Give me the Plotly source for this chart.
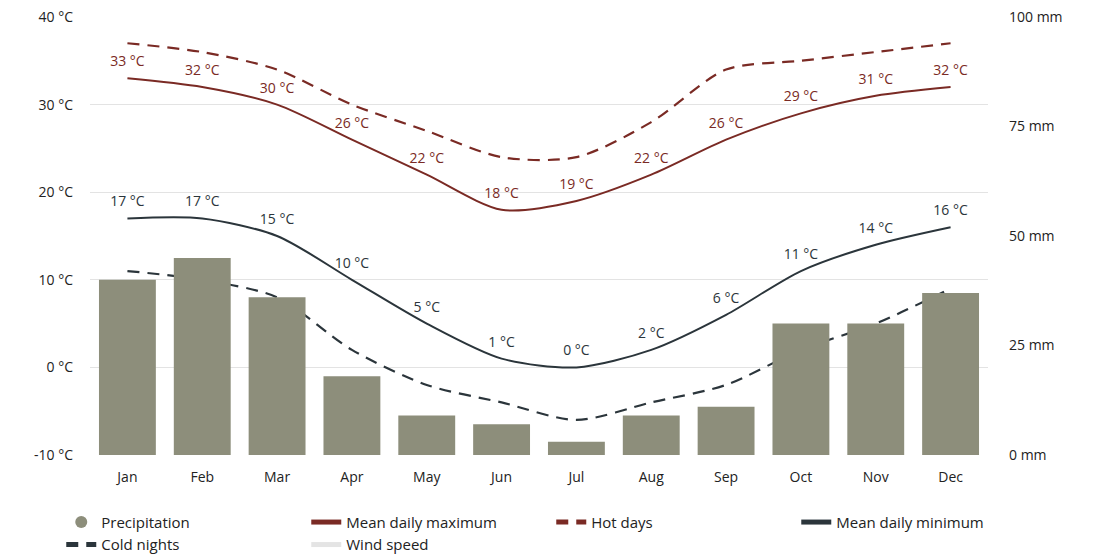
import plotly.graph_objects as go

months = ["Jan", "Feb", "Mar", "Apr", "May", "Jun", "Jul", "Aug", "Sep", "Oct", "Nov", "Dec"]
precipitation_mm = [40, 45, 36, 18, 9, 7, 3, 9, 11, 30, 30, 37]
mean_daily_max = [33, 32, 30, 26, 22, 18, 19, 22, 26, 29, 31, 32]
hot_days = [37, 36, 34, 30, 27, 24, 24, 28, 34, 35, 36, 37]
mean_daily_min = [17, 17, 15, 10, 5, 1, 0, 2, 6, 11, 14, 16]
cold_nights = [11, 10, 8, 2, -2, -4, -6, -4, -2, 2, 5, 9]
wind_speed = [None] * 12

temp_ticks = [-10, 0, 10, 20, 30, 40]
rain_ticks = [0, 25, 50, 75, 100]

RED = "#7a2a24"
DARK = "#2b353b"
BAR = "#8d8e7b"
FONT = "'Open Sans', 'Noto Sans', sans-serif"
DASH = "12px,8px"

fig = go.Figure()

# precipitation bars on the millimetre axis; legend entry drawn as a round swatch
fig.add_trace(go.Bar(
    x=months, y=precipitation_mm, name="Precipitation",
    marker=dict(color=BAR, line=dict(width=0)), yaxis="y2", showlegend=False,
))
fig.add_trace(go.Scatter(
    x=months, y=[None] * 12, name="Precipitation", mode="markers", yaxis="y2",
    marker=dict(color=BAR, size=17, symbol="circle"),
))
fig.add_trace(go.Scatter(
    x=months, y=mean_daily_max, name="Mean daily maximum", mode="lines+markers+text",
    line=dict(color=RED, width=2, shape="spline", smoothing=0.8),
    marker=dict(size=12, color="rgba(0,0,0,0)"),
    text=[f"{v} °C" for v in mean_daily_max], textposition="top center",
    textfont=dict(color=RED, size=14, family=FONT),
))
fig.add_trace(go.Scatter(
    x=months, y=hot_days, name="Hot days", mode="lines",
    line=dict(color=RED, width=2.2, shape="spline", smoothing=0.8, dash=DASH),
))
fig.add_trace(go.Scatter(
    x=months, y=mean_daily_min, name="Mean daily minimum", mode="lines+markers+text",
    line=dict(color=DARK, width=2, shape="spline", smoothing=0.8),
    marker=dict(size=12, color="rgba(0,0,0,0)"),
    text=[f"{v} °C" for v in mean_daily_min], textposition="top center",
    textfont=dict(color=DARK, size=14, family=FONT),
))
fig.add_trace(go.Scatter(
    x=months, y=cold_nights, name="Cold nights", mode="lines",
    line=dict(color=DARK, width=2.2, shape="spline", smoothing=0.8, dash=DASH),
))
fig.add_trace(go.Scatter(
    x=months, y=wind_speed, name="Wind speed", mode="lines",
    line=dict(color="#e4e4e4", width=2),
))

fig.update_layout(
    width=1094, height=556,
    margin=dict(l=90, r=106, t=17, b=101, autoexpand=False),
    plot_bgcolor="white", paper_bgcolor="white",
    font=dict(family=FONT, size=14, color="#222"),
    bargap=0.24,
    showlegend=True,
    xaxis=dict(showgrid=False, ticks="", showline=False, tickfont=dict(size=14),
               range=[-0.5, 11.5], automargin=False, ticklabelstandoff=12),
    yaxis=dict(
        range=[-10, 40], tickvals=temp_ticks, ticktext=[f"{t} °C" for t in temp_ticks],
        showgrid=True, gridcolor="#e3e3e3", gridwidth=1, zeroline=False,
        ticks="", showline=False, tickfont=dict(size=14),
        automargin=False, ticklabelstandoff=16,
    ),
    yaxis2=dict(
        range=[0, 100], tickvals=rain_ticks, ticktext=[f"{t} mm" for t in rain_ticks],
        overlaying="y", side="right", showgrid=False, zeroline=False,
        ticks="", showline=False, tickfont=dict(size=14),
        automargin=False, ticklabelstandoff=20,
    ),
    legend=dict(
        orientation="h", x=-0.032, xanchor="left", y=-0.116, yanchor="top",
        entrywidth=200, entrywidthmode="pixels", traceorder="normal",
        font=dict(size=15, color="#222"), itemsizing="constant",
        tracegroupgap=0,
    ),
)

fig.write_html("out.html")
